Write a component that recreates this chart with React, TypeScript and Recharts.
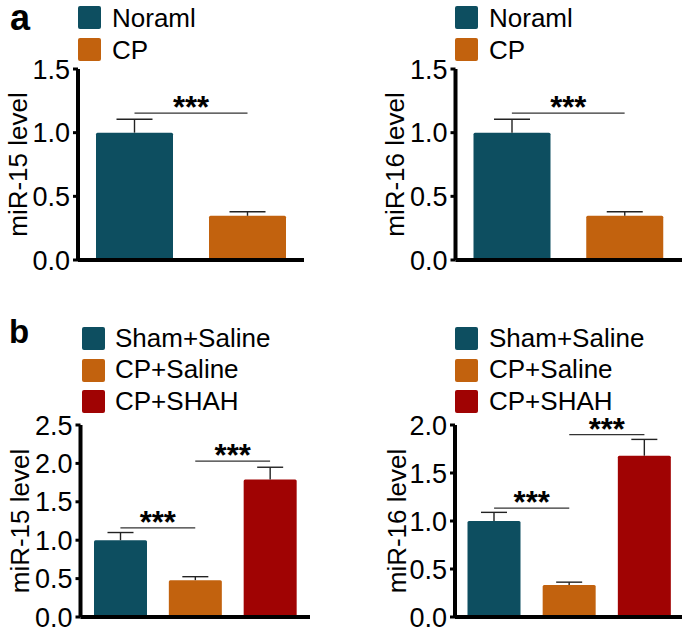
import { BarChart, Bar, XAxis, YAxis, Legend, ReferenceLine } from "recharts";

const FONT = '"Liberation Sans", Arial, Helvetica, sans-serif';

// panel a
const groupsA = ["Noraml", "CP"];
const colorsA = ["#0d4e60", "#c2620e"];
const mir15A = [1.0, 0.347];
const mir15AErr = [0.105, 0.032];
const mir16A = [1.0, 0.347];
const mir16AErr = [0.105, 0.032];
const ticksA = [0, 0.5, 1.0, 1.5];
const sigA = [{ from: "Noraml", to: "CP", y: 1.153 }];

// panel b
const groupsB = ["Sham+Saline", "CP+Saline", "CP+SHAH"];
const colorsB = ["#0d4e60", "#c2620e", "#a00303"];
const mir15B = [1.0, 0.48, 1.79];
const mir15BErr = [0.1, 0.045, 0.16];
const mir16B = [1.0, 0.333, 1.68];
const mir16BErr = [0.09, 0.03, 0.17];
const ticks15B = [0, 0.5, 1.0, 1.5, 2.0, 2.5];
const ticks16B = [0, 0.5, 1.0, 1.5, 2.0];
const sig15B = [
  { from: "Sham+Saline", to: "CP+Saline", y: 1.16 },
  { from: "CP+Saline", to: "CP+SHAH", y: 2.03 },
];
const sig16B = [
  { from: "Sham+Saline", to: "CP+Saline", y: 1.135 },
  { from: "CP+Saline", to: "CP+SHAH", y: 1.9 },
];

type Sig = { from: string; to: string; y: number };

// one row per group, only that group's key filled -> stacked bars sit centred in the band
function buildRows(groups: string[], values: number[], errs: number[]) {
  return groups.map((g, i) => {
    const row: Record<string, any> = { name: g };
    groups.forEach((h, j) => {
      row[h] = i === j ? values[i] : null;
      row[h + "_err"] = i === j ? errs[i] : null;
    });
    return row;
  });
}

// bar + upward-only error whisker
function barShape(key: string, half: number) {
  return (props: any) => {
    const { x, y, width, height, fill, payload } = props;
    const v = payload?.[key];
    if (!v || !height) return <g />;
    const perUnit = height / v;
    const top = y - payload[key + "_err"] * perUnit;
    const cx = x + width / 2;
    return (
      <g>
        <rect x={x} y={y} width={width} height={height} fill={fill} rx={1.5} />
        <line x1={cx} y1={y} x2={cx} y2={top} stroke="#222" strokeWidth={1.4} />
        <line x1={cx - half} y1={top} x2={cx + half} y2={top} stroke="#222" strokeWidth={1.4} />
      </g>
    );
  };
}

function legendContent(groups: string[], rowH: number, gap: number) {
  return (props: any) => {
    const items = [...(props.payload || [])].sort(
      (a: any, b: any) => groups.indexOf(a.value) - groups.indexOf(b.value)
    );
    return (
      <div style={{ fontFamily: FONT, fontSize: 26, color: "#000", whiteSpace: "nowrap" }}>
        {items.map((e: any) => (
          <div
            key={e.value}
            style={{ display: "flex", alignItems: "center", height: rowH, lineHeight: rowH + "px" }}
          >
            <span
              style={{
                display: "inline-block",
                width: 23,
                height: 23,
                background: e.color,
                borderRadius: 2,
                marginRight: gap,
              }}
            />
            <span>{e.value}</span>
          </div>
        ))}
      </div>
    );
  };
}

function Panel(p: {
  left: number;
  top: number;
  width: number;
  height: number;
  margin: { top: number; right: number; bottom: number; left: number };
  axisWidth: number;
  groups: string[];
  colors: string[];
  values: number[];
  errs: number[];
  ticks: number[];
  yLabel: string;
  sig: Sig[];
  barSize: number;
  half: number;
  padding: { left: number; right: number };
  legendPos: { left: number; top: number };
  rowH: number;
  gap: number;
  labelOffset: number;
}) {
  const rows = buildRows(p.groups, p.values, p.errs);
  return (
    <div style={{ position: "absolute", left: p.left, top: p.top }}>
      <BarChart
        width={p.width}
        height={p.height}
        data={rows}
        margin={p.margin}
        barSize={p.barSize}
        accessibilityLayer={false}
      >
        <XAxis
          dataKey="name"
          tick={false}
          tickLine={false}
          axisLine={{ stroke: "#000", strokeWidth: 4 }}
          height={1}
          padding={p.padding}
        />
        <YAxis
          type="number"
          domain={[0, p.ticks[p.ticks.length - 1]]}
          ticks={p.ticks}
          interval={0}
          tickFormatter={(v) => Number(v).toFixed(1)}
          axisLine={{ stroke: "#000", strokeWidth: 4 }}
          tickLine={{ stroke: "#000", strokeWidth: 3 }}
          tickSize={5}
          tickMargin={3}
          tick={{ fill: "#000", fontSize: 27, fontFamily: FONT }}
          width={p.axisWidth}
          label={{
            value: p.yLabel,
            angle: -90,
            position: "insideLeft",
            offset: p.labelOffset,
            style: { textAnchor: "middle", fontSize: 26, fontFamily: FONT, fill: "#000" },
          }}
        />
        <Legend
          layout="vertical"
          align="center"
          verticalAlign="middle"
          wrapperStyle={{ left: p.legendPos.left, top: p.legendPos.top, width: "auto" }}
          content={legendContent(p.groups, p.rowH, p.gap)}
        />
        {p.groups.map((g, i) => (
          <Bar
            key={g}
            dataKey={g}
            stackId="s"
            fill={p.colors[i]}
            isAnimationActive={false}
            shape={barShape(g, p.half)}
          />
        ))}
        {p.sig.map((s, i) => (
          <ReferenceLine
            key={i}
            segment={[
              { x: s.from, y: s.y },
              { x: s.to, y: s.y },
            ]}
            stroke="#333"
            strokeWidth={1.3}
            ifOverflow="visible"
            label={{ value: "***", position: "top", offset: -5, fontSize: 31, fontWeight: 700, fill: "#000" }}
          />
        ))}
      </BarChart>
    </div>
  );
}

export default function App() {
  return (
    <div
      style={{
        position: "absolute",
        left: 0,
        top: 0,
        width: 685,
        height: 631,
        background: "#fff",
        fontFamily: FONT,
        overflow: "hidden",
      }}
    >
      <Panel
        left={0}
        top={0}
        width={340}
        height={280}
        margin={{ top: 69, right: 36, bottom: 19, left: 0 }}
        axisWidth={78}
        groups={groupsA}
        colors={colorsA}
        values={mir15A}
        errs={mir15AErr}
        ticks={ticksA}
        yLabel="miR-15 level"
        sig={sigA}
        barSize={77}
        half={18}
        padding={{ left: 0, right: 0 }}
        legendPos={{ left: 78, top: 1.5 }}
        rowH={32}
        gap={11}
        labelOffset={18}
      />
      <Panel
        left={378}
        top={0}
        width={307}
        height={280}
        margin={{ top: 69, right: 3, bottom: 19, left: 0 }}
        axisWidth={77.5}
        groups={groupsA}
        colors={colorsA}
        values={mir16A}
        errs={mir16AErr}
        ticks={ticksA}
        yLabel="miR-16 level"
        sig={sigA}
        barSize={77}
        half={18}
        padding={{ left: 0, right: 1 }}
        legendPos={{ left: 77, top: 1.5 }}
        rowH={32}
        gap={11}
        labelOffset={17}
      />
      <Panel
        left={2}
        top={300}
        width={338}
        height={331}
        margin={{ top: 125, right: 30, bottom: 13, left: 0 }}
        axisWidth={78.5}
        groups={groupsB}
        colors={colorsB}
        values={mir15B}
        errs={mir15BErr}
        ticks={ticks15B}
        yLabel="miR-15 level"
        sig={sig15B}
        barSize={53}
        half={13}
        padding={{ left: 2.5, right: 2.5 }}
        legendPos={{ left: 80, top: 22.75 }}
        rowH={31.5}
        gap={10}
        labelOffset={18}
      />
      <Panel
        left={379}
        top={300}
        width={306}
        height={331}
        margin={{ top: 125, right: 3, bottom: 13, left: 0 }}
        axisWidth={76}
        groups={groupsB}
        colors={colorsB}
        values={mir16B}
        errs={mir16BErr}
        ticks={ticks16B}
        yLabel="miR-16 level"
        sig={sig16B}
        barSize={53}
        half={13}
        padding={{ left: 1.5, right: 0 }}
        legendPos={{ left: 76, top: 22.75 }}
        rowH={31.5}
        gap={11}
        labelOffset={18}
      />
      <svg
        width={685}
        height={631}
        style={{ position: "absolute", left: 0, top: 0, pointerEvents: "none" }}
      >
        <text x={10} y={30} fontSize={36} fontWeight={700} fontFamily={FONT} fill="#000">
          a
        </text>
        <text x={9} y={343} fontSize={33} fontWeight={700} fontFamily={FONT} fill="#000">
          b
        </text>
      </svg>
    </div>
  );
}
